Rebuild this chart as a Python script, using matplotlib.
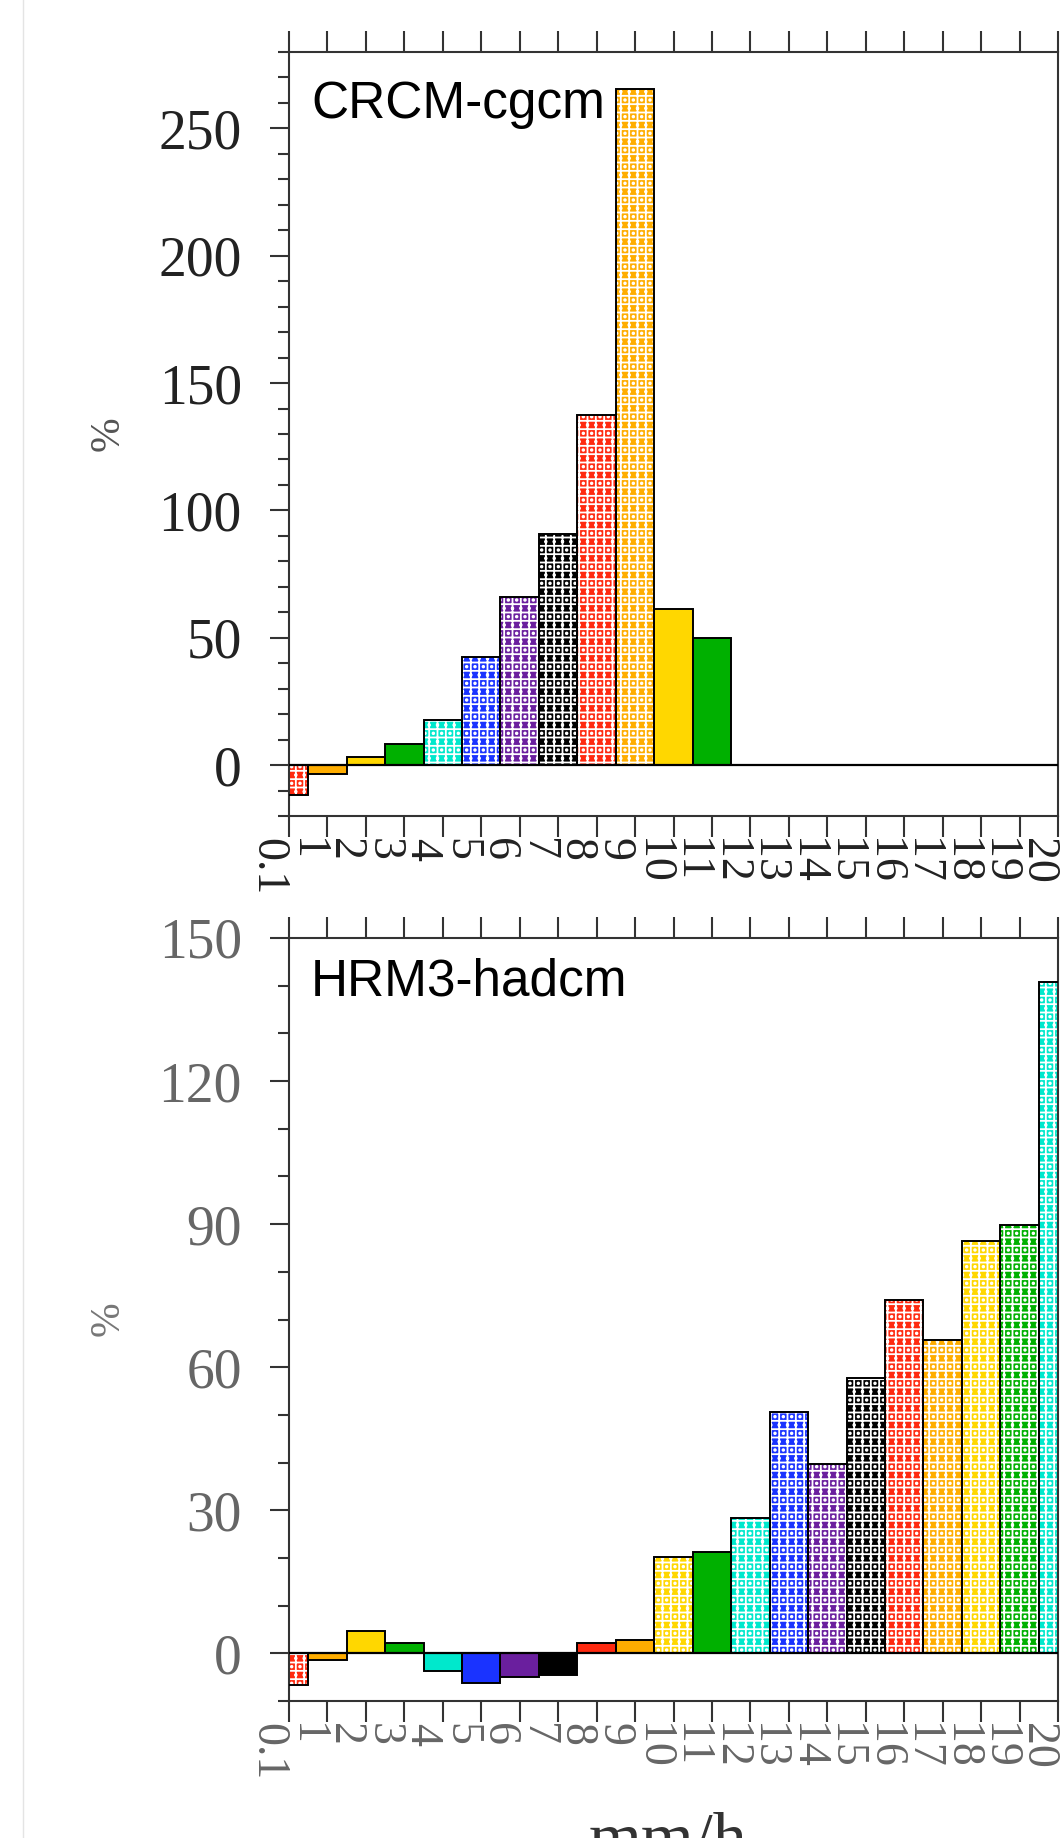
import numpy as np
import matplotlib
matplotlib.use("Agg")
import matplotlib.pyplot as plt
from matplotlib.lines import Line2D
from matplotlib.ticker import MultipleLocator
import matplotlib.transforms as mtransforms

# --------------------------------------------------------------------------- #
# data (% change per precipitation-intensity bin)
# --------------------------------------------------------------------------- #
bin_labels = ["0.1"] + [str(i) for i in range(1, 21)]

crcm_name = "CRCM-cgcm"
crcm_vals = [-11.8, -3.5, 3.0, 8.2, 17.6, 42.4, 65.9, 90.7, 137.6, 265.3,
             61.3, 49.8, 0, 0, 0, 0, 0, 0, 0, 0, 0]
crcm_signif = [1, 0, 0, 0, 1, 1, 1, 1, 1, 1, 0, 0, 0, 0, 0, 0, 0, 0, 0, 0, 0]

hrm3_name = "HRM3-hadcm"
hrm3_vals = [-6.6, -1.5, 4.7, 2.1, -3.8, -6.2, -5.0, -4.5, 2.1, 2.8,
             20.1, 21.2, 28.3, 50.5, 39.6, 57.7, 74.1, 65.8, 86.5, 89.9, 140.8]
hrm3_signif = [1, 0, 0, 0, 0, 0, 0, 0, 0, 0, 1, 0, 1, 1, 1, 1, 1, 1, 1, 1, 1]

palette = ["#ff2a10", "#ffad00", "#ffd700", "#00b000",
           "#00e8cc", "#1a33ff", "#6a1f9e", "#000000"]

W, H = 1061, 1838
plt.rcParams["hatch.linewidth"] = 1.3
fig = plt.figure(figsize=(W / 100, H / 100), dpi=100)


def px_axes(left, top, right, bottom):
    return fig.add_axes([left / W, 1 - bottom / H, (right - left) / W, (bottom - top) / H])


def draw_panel(ax, vals, signif, ylim, major, name, name_y, lab_color):
    x = np.arange(len(vals))
    for xi, v, s in zip(x, vals, signif):
        if v == 0:
            continue
        c = palette[xi % len(palette)]
        if s:
            # significant bins: white lattice over the colour
            ax.bar(xi, v, width=1, color=c, edgecolor="white", linewidth=0,
                   hatch="++..", zorder=2)
        else:
            ax.bar(xi, v, width=1, color=c, linewidth=0, zorder=2)
        ax.bar(xi, v, width=1, fill=False, edgecolor="black", linewidth=1.4, zorder=3)
    ax.axhline(0, color="black", lw=1.6, zorder=4)

    ax.set_xlim(0, 20)
    ax.set_ylim(*ylim)
    ax.set_xticks(x)
    ax.set_xticklabels(bin_labels, rotation=-90, ha="right", va="top",
                       fontsize=33, family="Liberation Serif", color=lab_color)
    off = mtransforms.ScaledTranslation(0.03, 0, fig.dpi_scale_trans)
    for lab in ax.get_xticklabels():
        lab.set_transform(lab.get_transform() + off)
    ax.yaxis.set_major_locator(MultipleLocator(major))
    ax.yaxis.set_minor_locator(MultipleLocator(10))
    for lab in ax.get_yticklabels():
        lab.set_family("Liberation Serif")
    ax.tick_params(axis="x", which="both", direction="out", length=15, width=1.5,
                   top=True, pad=1, colors="#333", labelcolor=lab_color)
    ax.tick_params(axis="y", which="major", direction="out", length=14, width=1.5,
                   pad=20, labelsize=40, colors="#333", labelcolor=lab_color)
    ax.tick_params(axis="y", which="minor", direction="out", length=8, width=1.5,
                   colors="#333")
    for sp in ax.spines.values():
        sp.set_linewidth(1.5)
        sp.set_color("#333")
    ax.text(0.0286, name_y, name, transform=ax.transAxes, fontsize=37,
            family="Liberation Sans", ha="left", va="baseline", zorder=5)


ax1 = px_axes(289, 52, 1058, 816)
draw_panel(ax1, crcm_vals, crcm_signif, (-20, 280), 50, crcm_name, 0.914, "#222")

ax2 = px_axes(289, 938, 1058, 1701)
draw_panel(ax2, hrm3_vals, hrm3_signif, (-10, 150), 30, hrm3_name, 0.925, "#666")

fig.text(108 / W, 1 - 434 / H, "%", rotation=90, ha="center", va="center",
         fontsize=30, family="Liberation Serif", color="#555")
fig.text(108 / W, 1 - 1319 / H, "%", rotation=90, ha="center", va="center",
         fontsize=30, family="Liberation Serif", color="#777")
fig.text(668 / W, 1 - 1812 / H, "mm/h", ha="center", va="top",
         fontsize=49, family="Liberation Serif", color="#333")

fig.add_artist(Line2D([23 / W, 23 / W], [0, 1], color="#e4e4e4", lw=1,
                      transform=fig.transFigure))

fig.savefig("out.png", dpi=100)
